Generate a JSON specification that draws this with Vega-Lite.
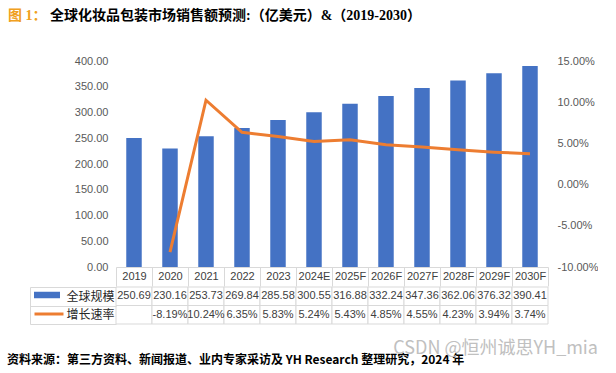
{
  "$schema": "https://vega.github.io/schema/vega-lite/v6.json",
  "padding": {"left": 7, "top": 9, "right": 0, "bottom": 0},
  "background": "white",
  "spacing": -7,
  "config": {
    "view": {"stroke": null},
    "font": "Liberation Sans",
    "locale": {"number": {"decimal": ".", "thousands": ",", "grouping": [3], "currency": ["$", ""], "minus": "-"}}
  },
  "datasets": {
    "d": [
      {"year": "2019", "size": 250.69, "growth": null},
      {"year": "2020", "size": 230.16, "growth": -0.0819},
      {"year": "2021", "size": 253.73, "growth": 0.1024},
      {"year": "2022", "size": 269.84, "growth": 0.0635},
      {"year": "2023", "size": 285.58, "growth": 0.0583},
      {"year": "2024E", "size": 300.55, "growth": 0.0524},
      {"year": "2025F", "size": 316.88, "growth": 0.0543},
      {"year": "2026F", "size": 332.24, "growth": 0.0485},
      {"year": "2027F", "size": 347.36, "growth": 0.0455},
      {"year": "2028F", "size": 362.06, "growth": 0.0423},
      {"year": "2029F", "size": 376.32, "growth": 0.0394},
      {"year": "2030F", "size": 390.41, "growth": 0.0374}
    ]
  },
  "title": {
    "text": "CSDN @恒州诚思YH_mia",
    "orient": "bottom",
    "anchor": "end",
    "frame": "bounds",
    "offset": -26,
    "dx": 0,
    "fontSize": 18,
    "font": "Noto Sans CJK SC",
    "fontWeight": "normal",
    "color": "#c0c0c0"
  },
  "vconcat": [
    {
      "width": 432,
      "height": 206,
      "data": {"name": "d"},
      "title": {
        "text": "图 1：",
        "subtitle": "\u200b\u3000\u3000\u3000全球化妆品包装市场销售额预测:（亿美元）&（2019-2030）",
        "anchor": "start",
        "frame": "group",
        "dx": -108,
        "offset": 32,
        "fontSize": 14,
        "subtitleFontSize": 14,
        "font": "Liberation Serif, Noto Sans CJK SC",
        "subtitleFont": "Liberation Serif, Noto Sans CJK SC",
        "fontWeight": "bold",
        "subtitleFontWeight": "bold",
        "color": "#f0a020",
        "subtitleColor": "#000000",
        "subtitlePadding": -14
      },
      "encoding": {
        "x": {
          "field": "year",
          "type": "ordinal",
          "scale": {"domain": ["2019", "2020", "2021", "2022", "2023", "2024E", "2025F", "2026F", "2027F", "2028F", "2029F", "2030F"], "paddingInner": 0, "paddingOuter": 0},
          "axis": {
            "orient": "bottom",
            "title": null,
            "tickBand": "extent",
            "tickSize": 19,
            "tickColor": "#d9d9d9",
            "domainColor": "#d9d9d9",
            "labelPadding": -9.5,
            "labelBaseline": "middle",
            "labelFontSize": 11,
            "labelColor": "#404040",
            "labelAngle": 0,
            "minExtent": 19,
            "maxExtent": 19
          }
        }
      },
      "layer": [
        {
          "mark": {"type": "bar", "width": {"band": 0.43}},
          "encoding": {
            "y": {
              "field": "size",
              "type": "quantitative",
              "scale": {"domain": [0, 400], "nice": false},
              "axis": {"orient": "left", "title": null, "domain": false, "ticks": false, "grid": false, "labelPadding": 8, "format": ".2f", "values": [0, 50, 100, 150, 200, 250, 300, 350, 400], "labelFontSize": 11, "labelColor": "#595959"}
            },
            "fill": {
              "datum": "全球规模",
              "scale": {"range": ["#4472c4"]},
              "legend": {"orient": "none", "legendX": -82, "legendY": 221, "title": null, "labelExpr": "''", "labelFontSize": 0, "symbolType": "M-1,-0.25H1V0.25H-1Z", "symbolSize": 676, "symbolStrokeWidth": 0, "padding": 0, "offset": 0}
            }
          }
        },
        {
          "transform": [{"filter": "datum.growth != null"}],
          "mark": {"type": "line", "strokeWidth": 3},
          "encoding": {
            "y": {
              "field": "growth",
              "type": "quantitative",
              "scale": {"domain": [-0.1, 0.15], "nice": false},
              "axis": {"orient": "right", "title": null, "domain": false, "ticks": false, "grid": false, "labelPadding": 9, "format": ".2%", "values": [-0.1, -0.05, 0, 0.05, 0.1, 0.15], "labelFontSize": 11, "labelColor": "#595959"}
            },
            "stroke": {
              "datum": "增长速率",
              "scale": {"range": ["#ed7d31"]},
              "legend": {"orient": "none", "legendX": -83, "legendY": 237, "title": null, "labelExpr": "''", "labelFontSize": 0, "symbolType": "stroke", "symbolSize": 841, "symbolStrokeWidth": 3, "padding": 0, "offset": 0}
            }
          }
        }
      ],
      "resolve": {"scale": {"y": "independent"}}
    },
    {
      "width": 432,
      "height": 37,
      "data": {"name": "d"},
      "title": {
        "text": "资料来源：第三方资料、新闻报道、业内专家采访及 YH Research 整理研究，2024 年",
        "orient": "bottom",
        "anchor": "start",
        "frame": "group",
        "dx": -109,
        "offset": 30,
        "fontSize": 12,
        "fontWeight": "bold",
        "font": "Liberation Sans Narrow, Noto Sans CJK SC",
        "color": "#000000"
      },
      "encoding": {
        "x": {
          "field": "year",
          "type": "ordinal",
          "scale": {"domain": ["2019", "2020", "2021", "2022", "2023", "2024E", "2025F", "2026F", "2027F", "2028F", "2029F", "2030F"], "paddingInner": 0, "paddingOuter": 0},
          "axis": null
        }
      },
      "layer": [
        {
          "mark": {"type": "rect", "fill": "white", "stroke": "#d9d9d9", "strokeWidth": 1},
          "encoding": {
            "y": {
              "datum": "全球规模",
              "type": "ordinal",
              "scale": {"type": "band", "domain": ["全球规模", "增长速率"], "paddingInner": 0, "paddingOuter": 0},
              "axis": {"orient": "left", "title": null, "offset": 86, "tickSize": -86, "tickBand": "extent", "tickColor": "#d9d9d9", "domainColor": "#d9d9d9", "grid": false, "labelPadding": 2, "labelFontSize": 12, "labelFont": "Noto Sans CJK SC", "labelColor": "#262626"}
            }
          }
        },
        {
          "mark": {"type": "rect", "fill": "white", "stroke": "#d9d9d9", "strokeWidth": 1},
          "encoding": {"y": {"datum": "增长速率", "type": "ordinal"}}
        },
        {
          "mark": {"type": "text", "fontSize": 11, "color": "#404040"},
          "encoding": {
            "y": {"datum": "全球规模", "type": "ordinal"},
            "text": {"field": "size", "type": "quantitative", "format": ".2f"}
          }
        },
        {
          "transform": [{"filter": "datum.growth != null"}],
          "mark": {"type": "text", "fontSize": 11, "color": "#404040"},
          "encoding": {
            "y": {"datum": "增长速率", "type": "ordinal"},
            "text": {"field": "growth", "type": "quantitative", "format": ".2%"}
          }
        }
      ]
    }
  ]
}
